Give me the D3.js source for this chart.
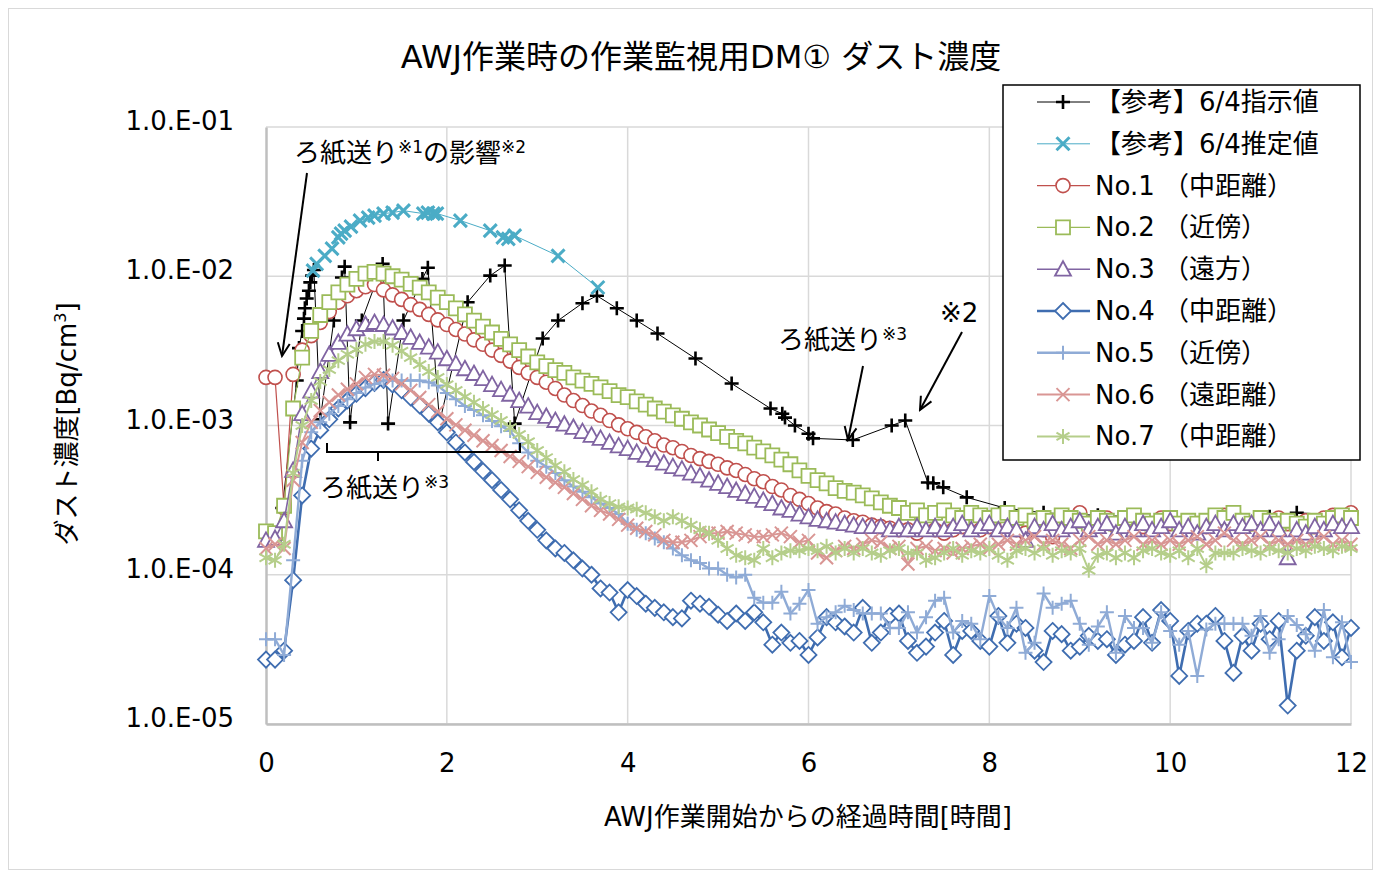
<!DOCTYPE html>
<html>
<head>
<meta charset="utf-8">
<script src="https://cdn.jsdelivr.net/npm/d3@7"></script>
<style>
  body { margin: 0; background: #fff; }
  svg text { font-family: "DejaVu Sans", "Noto Sans CJK JP", sans-serif; fill: #000; }
</style>
</head>
<body>
<svg id="chart" width="1380" height="875"></svg>
<script>
// ---- データ ----
const title = "AWJ作業時の作業監視用DM① ダスト濃度";
const xTitle = "AWJ作業開始からの経過時間[時間]";
const xTicks = [0, 2, 4, 6, 8, 10, 12];
const yTicks = [1e-5, 1e-4, 1e-3, 1e-2, 1e-1];
const yTickLabels = ["1.0.E-05", "1.0.E-04", "1.0.E-03", "1.0.E-02", "1.0.E-01"];

const seriesNames = ["【参考】6/4指示値", "【参考】6/4推定値", "No.1 （中距離）", "No.2 （近傍）",
  "No.3 （遠方）", "No.4 （中距離）", "No.5 （近傍）", "No.6 （遠距離）", "No.7 （中距離）"];

// 参考値（不規則な時刻）
const refT = [0.18, 0.34, 0.365, 0.40, 0.42, 0.43, 0.45, 0.475, 0.49, 0.51, 0.53, 0.60, 0.75, 0.84, 0.87, 0.93,
  1.06, 1.29, 1.35, 1.52, 1.73, 1.79, 1.92, 2.23, 2.48, 2.64, 2.75, 3.06, 3.23, 3.50, 3.66, 3.88, 4.10, 4.33,
  4.75, 5.15, 5.58, 5.71, 5.74, 5.85, 6.0, 6.05, 6.49, 6.92, 7.07, 7.32, 7.38, 7.49, 7.75, 8.17, 8.6, 9.2,
  10.0, 10.7, 11.1, 11.4, 12.0];
const refV = [2.8e-4, 2.0e-3, 3.3e-3, 4.3e-3, 5.2e-3, 6.1e-3, 7.1e-3, 8.0e-3, 9.1e-3, 1.01e-2, 1.1e-2, 1.1e-3,
  5.05e-3, 9.8e-3, 1.16e-2, 1.05e-3, 5.05e-3, 1.21e-2, 1.03e-3, 5.05e-3, 9.6e-3, 1.14e-2, 1.05e-3, 6.7e-3,
  1.01e-2, 1.18e-2, 1.03e-3, 3.83e-3, 5.05e-3, 6.6e-3, 7.4e-3, 6.1e-3, 5.05e-3, 4.13e-3, 2.81e-3, 1.91e-3,
  1.30e-3, 1.2e-3, 1.13e-3, 1.0e-3, 8.8e-4, 8.2e-4, 8.0e-4, 1.0e-3, 1.08e-3, 4.15e-4, 4.1e-4, 3.85e-4,
  3.3e-4, 2.8e-4, 2.6e-4, 2.5e-4, 2.4e-4, 2.4e-4, 2.45e-4, 2.6e-4, 2.5e-4];
const estT = [0.52, 0.56, 0.65, 0.73, 0.80, 0.83, 0.87, 0.94, 1.04, 1.13, 1.20, 1.30, 1.40, 1.52, 1.74, 1.79,
  1.85, 1.89, 2.15, 2.48, 2.62, 2.68, 2.75, 3.23, 3.67];
const estV = [1.09e-2, 1.21e-2, 1.37e-2, 1.53e-2, 1.82e-2, 1.93e-2, 2.02e-2, 2.15e-2, 2.36e-2, 2.47e-2, 2.55e-2,
  2.63e-2, 2.67e-2, 2.75e-2, 2.63e-2, 2.67e-2, 2.63e-2, 2.63e-2, 2.36e-2, 2.02e-2, 1.82e-2, 1.78e-2, 1.87e-2,
  1.37e-2, 8.4e-3];

// 測定点 No.1〜No.7（0.1時間ごと、0〜12時間）
const hours = d3.range(121).map(i => i / 10);
const no1 = [
  2.1e-3, 2.1e-3, 2.8e-4, 2.2e-3, 3.2e-3, 4.0e-3, 4.9e-3, 5.8e-3, 6.7e-3, 7.4e-3,
  8.0e-3, 8.5e-3, 8.8e-3, 8.1e-3, 7.5e-3, 7.0e-3, 6.45e-3, 6.0e-3, 5.55e-3, 5.1e-3,
  4.75e-3, 4.4e-3, 4.1e-3, 3.75e-3, 3.5e-3, 3.2e-3, 2.95e-3, 2.7e-3, 2.45e-3, 2.25e-3,
  2.1e-3, 1.95e-3, 1.77e-3, 1.6e-3, 1.47e-3, 1.36e-3, 1.25e-3, 1.17e-3, 1.08e-3, 1.01e-3,
  9.5e-4, 9.0e-4, 8.4e-4, 7.9e-4, 7.4e-4, 7.1e-4, 6.7e-4, 6.3e-4, 6.0e-4, 5.75e-4,
  5.5e-4, 5.2e-4, 5.0e-4, 4.7e-4, 4.4e-4, 4.2e-4, 3.9e-4, 3.7e-4, 3.4e-4, 3.2e-4,
  3.0e-4, 2.8e-4, 2.65e-4, 2.55e-4, 2.4e-4, 2.3e-4, 2.25e-4, 2.15e-4, 2.1e-4, 2.05e-4,
  2.0e-4, 2.0e-4, 1.9e-4, 2.1e-4, 2.0e-4, 1.9e-4, 2.0e-4, 2.1e-4, 2.2e-4, 2.0e-4,
  2.1e-4, 2.3e-4, 2.2e-4, 2.0e-4, 1.9e-4, 2.1e-4, 2.0e-4, 1.8e-4, 2.2e-4, 2.4e-4,
  2.6e-4, 2.2e-4, 2.3e-4, 2.4e-4, 2.1e-4, 2.2e-4, 2.3e-4, 2.1e-4, 2.2e-4, 2.4e-4,
  2.2e-4, 2.1e-4, 2.3e-4, 2.2e-4, 2.1e-4, 2.3e-4, 2.5e-4, 2.6e-4, 2.3e-4, 2.2e-4,
  2.1e-4, 2.3e-4, 2.4e-4, 2.2e-4, 2.2e-4, 2.3e-4, 2.1e-4, 2.4e-4, 2.5e-4, 2.3e-4,
  2.6e-4];
const no2 = [
  1.95e-4, 1.9e-4, 2.9e-4, 1.3e-3, 2.85e-3, 4.3e-3, 5.5e-3, 6.7e-3, 7.8e-3, 8.8e-3,
  9.6e-3, 1.04e-2, 1.07e-2, 1.04e-2, 1.0e-2, 9.5e-3, 8.9e-3, 8.4e-3, 7.8e-3, 7.2e-3,
  6.7e-3, 6.1e-3, 5.55e-3, 5.05e-3, 4.6e-3, 4.2e-3, 3.8e-3, 3.5e-3, 3.2e-3, 2.9e-3,
  2.65e-3, 2.5e-3, 2.35e-3, 2.25e-3, 2.1e-3, 2.0e-3, 1.9e-3, 1.8e-3, 1.7e-3, 1.6e-3,
  1.55e-3, 1.45e-3, 1.38e-3, 1.3e-3, 1.24e-3, 1.17e-3, 1.11e-3, 1.05e-3, 1.0e-3, 9.4e-4,
  8.9e-4, 8.4e-4, 7.9e-4, 7.6e-4, 7.1e-4, 6.7e-4, 6.3e-4, 5.9e-4, 5.5e-4, 5.0e-4,
  4.6e-4, 4.3e-4, 4.1e-4, 3.8e-4, 3.65e-4, 3.55e-4, 3.4e-4, 3.25e-4, 3.05e-4, 2.9e-4,
  2.8e-4, 2.6e-4, 2.7e-4, 2.5e-4, 2.6e-4, 2.7e-4, 2.5e-4, 2.4e-4, 2.6e-4, 2.5e-4,
  2.4e-4, 2.5e-4, 2.6e-4, 2.4e-4, 2.5e-4, 2.3e-4, 2.4e-4, 2.3e-4, 2.5e-4, 2.4e-4,
  2.3e-4, 2.2e-4, 2.4e-4, 2.3e-4, 2.2e-4, 2.4e-4, 2.5e-4, 2.3e-4, 2.2e-4, 2.3e-4,
  2.4e-4, 2.2e-4, 2.3e-4, 2.2e-4, 2.3e-4, 2.5e-4, 2.4e-4, 2.6e-4, 2.3e-4, 2.2e-4,
  2.4e-4, 2.3e-4, 2.2e-4, 2.3e-4, 2.2e-4, 2.1e-4, 2.3e-4, 2.2e-4, 2.4e-4, 2.5e-4,
  2.4e-4];
const no3 = [
  1.7e-4, 1.75e-4, 2.3e-4, 5.0e-4, 1.2e-3, 1.7e-3, 2.3e-3, 3.0e-3, 3.6e-3, 4.1e-3,
  4.45e-3, 4.75e-3, 4.9e-3, 4.75e-3, 4.5e-3, 4.2e-3, 3.9e-3, 3.6e-3, 3.35e-3, 3.1e-3,
  2.8e-3, 2.6e-3, 2.4e-3, 2.23e-3, 2.06e-3, 1.88e-3, 1.74e-3, 1.62e-3, 1.47e-3, 1.35e-3,
  1.22e-3, 1.15e-3, 1.08e-3, 1.02e-3, 9.7e-4, 9.1e-4, 8.6e-4, 8.2e-4, 7.7e-4, 7.3e-4,
  7.0e-4, 6.6e-4, 6.3e-4, 5.9e-4, 5.6e-4, 5.3e-4, 5.1e-4, 4.8e-4, 4.6e-4, 4.3e-4,
  4.1e-4, 3.9e-4, 3.67e-4, 3.5e-4, 3.35e-4, 3.15e-4, 3.0e-4, 2.8e-4, 2.7e-4, 2.55e-4,
  2.44e-4, 2.35e-4, 2.3e-4, 2.25e-4, 2.2e-4, 2.15e-4, 2.1e-4, 2.1e-4, 2.1e-4, 2.0e-4,
  2.1e-4, 2.0e-4, 2.1e-4, 2.0e-4, 2.1e-4, 2.0e-4, 2.1e-4, 2.2e-4, 2.0e-4, 2.1e-4,
  2.2e-4, 2.0e-4, 2.1e-4, 2.0e-4, 1.7e-4, 2.1e-4, 2.0e-4, 2.2e-4, 2.0e-4, 2.1e-4,
  2.3e-4, 2.0e-4, 2.1e-4, 2.2e-4, 1.9e-4, 2.1e-4, 2.0e-4, 2.2e-4, 2.0e-4, 2.1e-4,
  2.3e-4, 2.0e-4, 2.1e-4, 1.9e-4, 2.1e-4, 2.2e-4, 2.0e-4, 2.2e-4, 2.1e-4, 2.2e-4,
  2.0e-4, 2.2e-4, 2.0e-4, 1.3e-4, 2.0e-4, 1.9e-4, 2.1e-4, 2.0e-4, 2.2e-4, 2.1e-4,
  2.1e-4];
const no4 = [
  2.7e-5, 2.7e-5, 3.1e-5, 9.2e-5, 3.4e-4, 7.0e-4, 9.3e-4, 1.1e-3, 1.3e-3, 1.47e-3,
  1.63e-3, 1.78e-3, 1.93e-3, 2.02e-3, 1.88e-3, 1.72e-3, 1.54e-3, 1.36e-3, 1.2e-3, 1.05e-3,
  9.0e-4, 7.7e-4, 6.6e-4, 5.7e-4, 4.95e-4, 4.3e-4, 3.7e-4, 3.2e-4, 2.7e-4, 2.3e-4,
  2.0e-4, 1.7e-4, 1.5e-4, 1.4e-4, 1.25e-4, 1.1e-4, 1.0e-4, 8.1e-5, 7.6e-5, 5.6e-5,
  7.9e-5, 7.2e-5, 6.4e-5, 6.0e-5, 5.6e-5, 5.2e-5, 5.1e-5, 6.7e-5, 6.4e-5, 6.1e-5,
  5.4e-5, 4.9e-5, 5.5e-5, 4.9e-5, 5.6e-5, 4.8e-5, 3.4e-5, 4.1e-5, 3.5e-5, 3.6e-5,
  2.9e-5, 3.8e-5, 5.2e-5, 4.8e-5, 4.5e-5, 4.1e-5, 6.0e-5, 3.5e-5, 4.1e-5, 5.3e-5,
  5.5e-5, 3.6e-5, 3.0e-5, 3.3e-5, 4.1e-5, 4.9e-5, 2.9e-5, 4.2e-5, 4.2e-5, 3.6e-5,
  3.3e-5, 5.3e-5, 3.5e-5, 4.7e-5, 4.4e-5, 3.1e-5, 2.6e-5, 4.2e-5, 4.0e-5, 3.1e-5,
  3.3e-5, 3.9e-5, 3.6e-5, 3.7e-5, 2.9e-5, 3.4e-5, 3.6e-5, 5.2e-5, 3.5e-5, 5.8e-5,
  4.9e-5, 2.1e-5, 4.2e-5, 4.7e-5, 4.7e-5, 5.3e-5, 3.6e-5, 2.2e-5, 3.9e-5, 3.1e-5,
  4.7e-5, 3.7e-5, 4.9e-5, 1.33e-5, 3.1e-5, 3.9e-5, 5.2e-5, 3.6e-5, 4.8e-5, 2.8e-5,
  4.4e-5];
const no5 = [
  3.7e-5, 3.7e-5, 2.9e-5, 1.25e-4, 5.8e-4, 9.0e-4, 1.05e-3, 1.2e-3, 1.35e-3, 1.5e-3,
  1.65e-3, 1.8e-3, 1.9e-3, 2.0e-3, 2.0e-3, 2.0e-3, 2.0e-3, 2.0e-3, 1.95e-3, 1.85e-3,
  1.65e-3, 1.5e-3, 1.35e-3, 1.27e-3, 1.17e-3, 1.07e-3, 9.9e-4, 9.2e-4, 7.6e-4, 6.6e-4,
  5.8e-4, 5.3e-4, 4.8e-4, 4.3e-4, 3.9e-4, 3.6e-4, 3.3e-4, 3.0e-4, 2.8e-4, 2.55e-4,
  2.2e-4, 2.0e-4, 1.9e-4, 1.75e-4, 1.65e-4, 1.5e-4, 1.35e-4, 1.25e-4, 1.2e-4, 1.1e-4,
  1.1e-4, 1.0e-4, 9.6e-5, 1.0e-4, 7.0e-5, 6.5e-5, 6.5e-5, 7.7e-5, 5.5e-5, 6.4e-5,
  7.9e-5, 4.7e-5, 5.2e-5, 5.6e-5, 6.2e-5, 5.8e-5, 5.5e-5, 5.5e-5, 5.5e-5, 4.4e-5,
  4.4e-5, 5.6e-5, 4.1e-5, 5.2e-5, 6.7e-5, 7.0e-5, 4.1e-5, 4.9e-5, 4.7e-5, 3.7e-5,
  7.2e-5, 5.2e-5, 4.4e-5, 6.0e-5, 3.0e-5, 3.5e-5, 7.5e-5, 6.0e-5, 6.4e-5, 6.7e-5,
  4.7e-5, 3.4e-5, 4.5e-5, 5.6e-5, 3.0e-5, 5.3e-5, 4.4e-5, 4.4e-5, 3.5e-5, 5.6e-5,
  4.2e-5, 3.4e-5, 4.2e-5, 2.1e-5, 4.3e-5, 4.7e-5, 4.7e-5, 4.7e-5, 4.7e-5, 3.9e-5,
  5.3e-5, 3.0e-5, 3.7e-5, 5.3e-5, 4.6e-5, 4.0e-5, 3.1e-5, 5.8e-5, 2.8e-5, 4.8e-5,
  2.6e-5];
const no6 = [
  1.5e-4, 1.6e-4, 1.5e-4, 4.3e-4, 7.7e-4, 1.05e-3, 1.26e-3, 1.43e-3, 1.6e-3, 1.75e-3,
  1.9e-3, 2.1e-3, 2.2e-3, 2.17e-3, 2.07e-3, 1.9e-3, 1.72e-3, 1.54e-3, 1.38e-3, 1.24e-3,
  1.11e-3, 1.01e-3, 9.3e-4, 8.6e-4, 7.9e-4, 7.35e-4, 6.8e-4, 6.2e-4, 5.75e-4, 5.3e-4,
  4.85e-4, 4.5e-4, 4.15e-4, 3.85e-4, 3.5e-4, 3.2e-4, 2.9e-4, 2.7e-4, 2.55e-4, 2.35e-4,
  2.15e-4, 2.05e-4, 1.95e-4, 1.85e-4, 1.7e-4, 1.65e-4, 1.65e-4, 1.7e-4, 1.8e-4, 1.9e-4,
  1.9e-4, 1.95e-4, 1.9e-4, 1.85e-4, 1.8e-4, 1.8e-4, 1.85e-4, 1.9e-4, 1.8e-4, 1.65e-4,
  1.7e-4, 1.4e-4, 1.3e-4, 1.45e-4, 1.55e-4, 1.5e-4, 1.6e-4, 1.7e-4, 1.65e-4, 1.5e-4,
  1.55e-4, 1.18e-4, 1.5e-4, 1.55e-4, 1.45e-4, 1.5e-4, 1.4e-4, 1.5e-4, 1.55e-4, 1.6e-4,
  1.5e-4, 1.6e-4, 1.7e-4, 1.6e-4, 1.7e-4, 1.8e-4, 1.6e-4, 1.7e-4, 1.6e-4, 1.5e-4,
  1.7e-4, 1.8e-4, 1.6e-4, 1.7e-4, 1.6e-4, 1.7e-4, 1.8e-4, 1.6e-4, 1.7e-4, 1.6e-4,
  1.7e-4, 1.6e-4, 1.7e-4, 1.8e-4, 1.6e-4, 1.7e-4, 1.9e-4, 1.7e-4, 1.6e-4, 1.7e-4,
  1.8e-4, 1.6e-4, 1.7e-4, 1.6e-4, 1.7e-4, 1.6e-4, 1.7e-4, 1.8e-4, 1.6e-4, 1.7e-4,
  1.6e-4];
const no7 = [
  1.3e-4, 1.25e-4, 1.6e-4, 4.8e-4, 1.0e-3, 1.47e-3, 1.97e-3, 2.37e-3, 2.72e-3, 3.0e-3,
  3.23e-3, 3.5e-3, 3.65e-3, 3.65e-3, 3.45e-3, 3.15e-3, 2.85e-3, 2.56e-3, 2.3e-3, 2.1e-3,
  1.88e-3, 1.72e-3, 1.56e-3, 1.43e-3, 1.3e-3, 1.18e-3, 1.08e-3, 9.7e-4, 8.7e-4, 7.8e-4,
  6.8e-4, 6.1e-4, 5.4e-4, 4.9e-4, 4.35e-4, 4.0e-4, 3.6e-4, 3.2e-4, 3.0e-4, 2.85e-4,
  2.8e-4, 2.75e-4, 2.6e-4, 2.45e-4, 2.3e-4, 2.45e-4, 2.3e-4, 2.15e-4, 2.0e-4, 1.9e-4,
  1.7e-4, 1.5e-4, 1.35e-4, 1.3e-4, 1.25e-4, 1.5e-4, 1.3e-4, 1.4e-4, 1.45e-4, 1.45e-4,
  1.5e-4, 1.45e-4, 1.55e-4, 1.4e-4, 1.5e-4, 1.4e-4, 1.5e-4, 1.4e-4, 1.35e-4, 1.45e-4,
  1.5e-4, 1.4e-4, 1.4e-4, 1.25e-4, 1.3e-4, 1.4e-4, 1.5e-4, 1.35e-4, 1.45e-4, 1.4e-4,
  1.5e-4, 1.35e-4, 1.25e-4, 1.45e-4, 1.5e-4, 1.4e-4, 1.5e-4, 1.35e-4, 1.45e-4, 1.4e-4,
  1.5e-4, 1.07e-4, 1.35e-4, 1.4e-4, 1.3e-4, 1.4e-4, 1.3e-4, 1.45e-4, 1.5e-4, 1.4e-4,
  1.35e-4, 1.45e-4, 1.3e-4, 1.5e-4, 1.15e-4, 1.4e-4, 1.4e-4, 1.4e-4, 1.5e-4, 1.45e-4,
  1.4e-4, 1.5e-4, 1.45e-4, 1.4e-4, 1.5e-4, 1.45e-4, 1.55e-4, 1.5e-4, 1.45e-4, 1.55e-4,
  1.5e-4];

// 系列の見た目（データとは別）
const styles = [
  { color: "#000000", width: 1, marker: "plus", mw: 2.6 },
  { color: "#4bacc6", width: 1, marker: "cross", mw: 3 },
  { color: "#c0504d", width: 1.2, marker: "circle", mw: 1.6 },
  { color: "#9bbb59", width: 1.2, marker: "square", mw: 1.8 },
  { color: "#8064a2", width: 1.6, marker: "triangle", mw: 1.8 },
  { color: "#3f6db0", width: 2.6, marker: "diamond", mw: 1.8 },
  { color: "#8fabd6", width: 2.4, marker: "plus", mw: 2 },
  { color: "#d99694", width: 2, marker: "cross", mw: 2 },
  { color: "#b5ce8a", width: 2, marker: "star", mw: 2 }
];

const allSeries = [
  refT.map((t, i) => ({ t, v: refV[i] })),
  estT.map((t, i) => ({ t, v: estV[i] })),
  ...[no1, no2, no3, no4, no5, no6, no7].map(arr => hours.map((t, i) => ({ t, v: arr[i] })))
];

// ---- 描画 ----
const svg = d3.select("#chart");
const x = d3.scaleLinear().domain([0, 12]).range([266, 1351]);
const y = d3.scaleLog().domain([1e-5, 1e-1]).range([724, 127]);

svg.append("rect").attr("x", 8.5).attr("y", 8.5).attr("width", 1364).attr("height", 861)
  .attr("fill", "#fff").attr("stroke", "#d9d9d9");

// グリッド
svg.append("g").selectAll("line").data(yTicks).enter().append("line")
  .attr("x1", x(0)).attr("x2", x(12)).attr("y1", d => y(d)).attr("y2", d => y(d))
  .attr("stroke", "#d9d9d9").attr("stroke-width", 1.5);
svg.append("g").selectAll("line").data(xTicks.slice(1)).enter().append("line")
  .attr("x1", d => x(d)).attr("x2", d => x(d)).attr("y1", y(1e-1)).attr("y2", y(1e-5))
  .attr("stroke", "#d9d9d9").attr("stroke-width", 1.5);

// 軸
const yAxis = svg.append("g").attr("transform", `translate(${x(0)},0)`)
  .call(d3.axisLeft(y).tickValues(yTicks).tickSize(0).tickPadding(32)
    .tickFormat((d, i) => yTickLabels[i]));
const xAxis = svg.append("g").attr("transform", `translate(0,${y(1e-5)})`)
  .call(d3.axisBottom(x).tickValues(xTicks).tickSize(0).tickPadding(30).tickFormat(d3.format("d")));
[yAxis, xAxis].forEach(g => {
  g.select(".domain").attr("stroke", "#bfbfbf").attr("stroke-width", 2.5);
  g.selectAll("text").attr("font-size", 26).attr("font-family", null);
});
yAxis.selectAll("text").attr("dy", "0.1em");

// 系列
const line = d3.line().x(d => x(d.t)).y(d => y(d.v));

function drawMarker(g, type, color, mw) {
  if (type === "circle") {
    g.append("circle").attr("r", 7).attr("fill", "#fff").attr("stroke", color).attr("stroke-width", mw);
    return;
  }
  const paths = {
    plus: "M-7,0H7M0,-7V7",
    cross: "M-6.5,-6.5L6.5,6.5M-6.5,6.5L6.5,-6.5",
    square: "M-7,-7H7V7H-7Z",
    triangle: "M0,-8L8,6.5H-8Z",
    diamond: "M0,-8L8,0L0,8L-8,0Z",
    star: "M0,-7.5V7.5M-6.5,-3.8L6.5,3.8M-6.5,3.8L6.5,-3.8"
  };
  const open = ["square", "triangle", "diamond"].includes(type);
  g.append("path").attr("d", paths[type]).attr("fill", open ? "#fff" : "none")
    .attr("stroke", color).attr("stroke-width", mw);
}

allSeries.forEach((data, si) => {
  const s = styles[si];
  const g = svg.append("g");
  g.append("path").datum(data).attr("d", line).attr("fill", "none")
    .attr("stroke", s.color).attr("stroke-width", s.width).attr("stroke-linejoin", "round");
  g.selectAll("g.m").data(data).enter().append("g").attr("class", "m")
    .attr("transform", d => `translate(${x(d.t)},${y(d.v)})`)
    .each(function () { drawMarker(d3.select(this), s.marker, s.color, s.mw); });
});

// タイトル類
svg.append("text").attr("x", 701).attr("y", 68).attr("text-anchor", "middle")
  .attr("font-size", 32).text(title);
svg.append("text").attr("x", 808).attr("y", 826).attr("text-anchor", "middle")
  .attr("font-size", 26).text(xTitle);
const yt = svg.append("text").attr("transform", "translate(76,424) rotate(-90)")
  .attr("text-anchor", "middle").attr("font-size", 26);
yt.append("tspan").text("ダスト濃度[Bq/cm");
yt.append("tspan").attr("font-size", 16).attr("dy", -10).text("3");
yt.append("tspan").attr("dy", 10).text("]");

// 注記
const defs = svg.append("defs");
defs.append("marker").attr("id", "arr").attr("viewBox", "-14 -8 16 16")
  .attr("markerWidth", 16).attr("markerHeight", 16).attr("markerUnits", "userSpaceOnUse")
  .attr("orient", "auto")
  .append("path").attr("d", "M-13,-6L0,0L-13,6").attr("fill", "none").attr("stroke", "#000").attr("stroke-width", 2);

function note(xp, yp, parts) {
  const t = svg.append("text").attr("x", xp).attr("y", yp).attr("font-size", 26);
  parts.forEach(p => {
    if (p.sup) t.append("tspan").attr("font-size", 17).attr("dy", -9).text(p.s);
    else t.append("tspan").attr("dy", p.back ? 9 : 0).text(p.s);
  });
}
note(294, 162, [{ s: "ろ紙送り" }, { s: "※1", sup: true }, { s: "の影響", back: true }, { s: "※2", sup: true }]);
note(320, 497, [{ s: "ろ紙送り" }, { s: "※3", sup: true }]);
note(778, 349, [{ s: "ろ紙送り" }, { s: "※3", sup: true }]);
note(940, 322, [{ s: "※2" }]);

const arrows = [[307, 173, 282, 356], [863, 366, 848, 440], [962, 332, 920, 410]];
svg.append("g").selectAll("line").data(arrows).enter().append("line")
  .attr("x1", d => d[0]).attr("y1", d => d[1]).attr("x2", d => d[2]).attr("y2", d => d[3])
  .attr("stroke", "#000").attr("stroke-width", 2).attr("marker-end", "url(#arr)");
svg.append("path").attr("d", "M327,443V452H520V443M378,452V461")
  .attr("fill", "none").attr("stroke", "#000").attr("stroke-width", 2);

// 凡例
const lg = svg.append("g");
lg.append("rect").attr("x", 1003).attr("y", 85).attr("width", 357).attr("height", 375)
  .attr("fill", "#fff").attr("stroke", "#000").attr("stroke-width", 1.5);
seriesNames.forEach((name, i) => {
  const s = styles[i];
  const cy = 102 + i * 41.8;
  const row = lg.append("g");
  row.append("line").attr("x1", 1037).attr("x2", 1090).attr("y1", cy).attr("y2", cy)
    .attr("stroke", s.color).attr("stroke-width", s.width);
  drawMarker(row.append("g").attr("transform", `translate(1063,${cy})`), s.marker, s.color, s.mw);
  row.append("text").attr("x", 1095).attr("y", cy + 9).attr("font-size", 26).text(name);
});
</script>
</body>
</html>
